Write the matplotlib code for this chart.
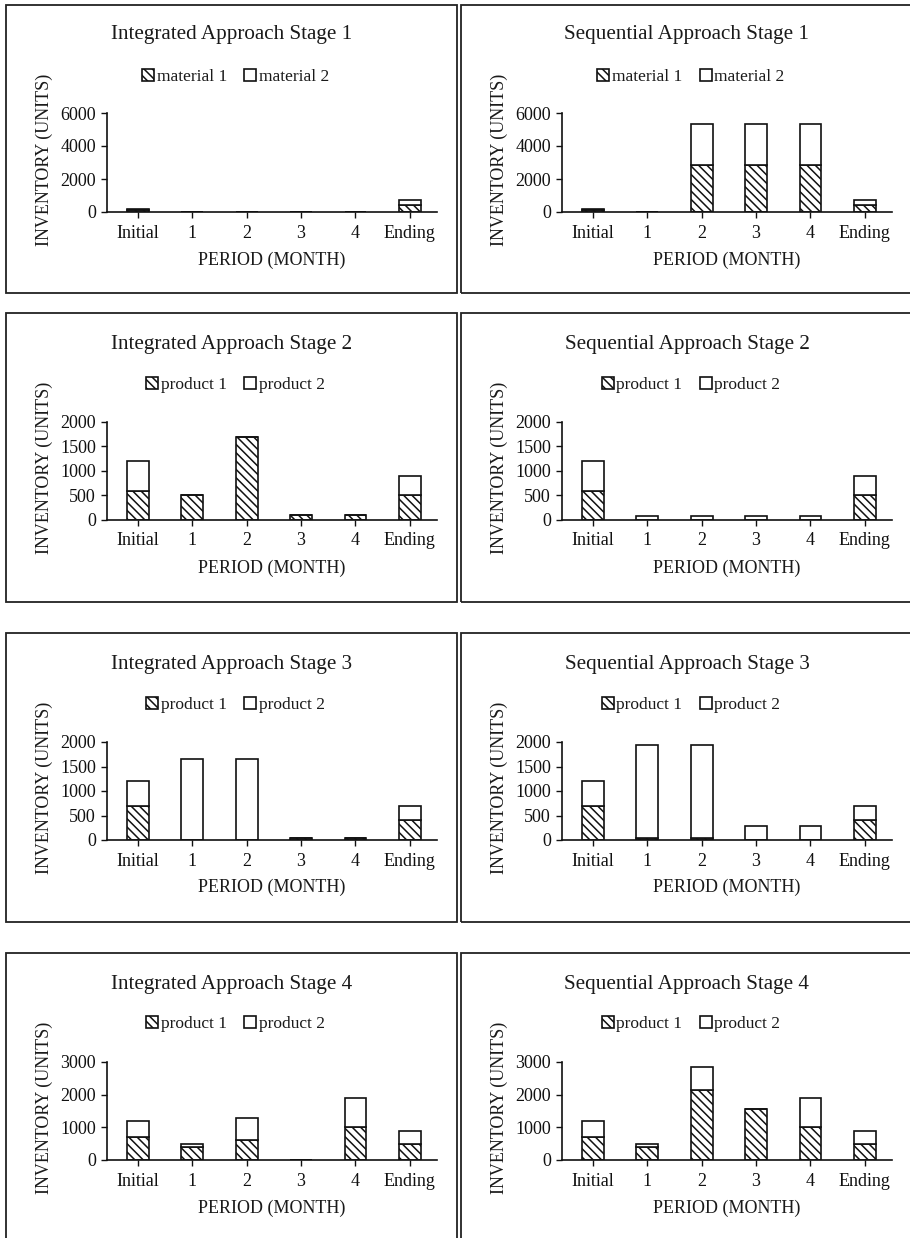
import matplotlib
matplotlib.use("Agg")
import matplotlib.pyplot as plt
from matplotlib.patches import Rectangle

plt.rcParams["font.family"] = ["Liberation Serif", "DejaVu Serif"]
plt.rcParams["hatch.linewidth"] = 1.1
plt.rcParams["text.color"] = "#1a1a1a"

periods = ["Initial", "1", "2", "3", "4", "Ending"]

# stage 1: raw materials
int_s1_m1 = [150, 0, 0, 0, 0, 400]
int_s1_m2 = [50, 0, 0, 0, 0, 300]
seq_s1_m1 = [150, 0, 2870, 2870, 2870, 400]
seq_s1_m2 = [50, 0, 2480, 2480, 2480, 300]

# stage 2
int_s2_p1 = [600, 500, 1700, 100, 100, 500]
int_s2_p2 = [600, 0, 0, 0, 0, 400]
seq_s2_p1 = [600, 0, 0, 0, 0, 500]
seq_s2_p2 = [600, 90, 90, 90, 90, 400]

# stage 3
int_s3_p1 = [700, 0, 0, 40, 40, 400]
int_s3_p2 = [500, 1650, 1650, 0, 0, 300]
seq_s3_p1 = [700, 40, 40, 0, 0, 400]
seq_s3_p2 = [500, 1890, 1890, 290, 290, 300]

# stage 4
int_s4_p1 = [700, 400, 600, 0, 1000, 500]
int_s4_p2 = [500, 100, 700, 0, 900, 400]
seq_s4_p1 = [700, 400, 2150, 1560, 1000, 500]
seq_s4_p2 = [500, 100, 700, 0, 900, 400]

panels = [
    ("Integrated Approach Stage 1", int_s1_m1, int_s1_m2, ("material 1", "material 2"), [0, 2000, 4000, 6000]),
    ("Sequential Approach Stage 1", seq_s1_m1, seq_s1_m2, ("material 1", "material 2"), [0, 2000, 4000, 6000]),
    ("Integrated Approach Stage 2", int_s2_p1, int_s2_p2, ("product 1", "product 2"), [0, 500, 1000, 1500, 2000]),
    ("Sequential Approach Stage 2", seq_s2_p1, seq_s2_p2, ("product 1", "product 2"), [0, 500, 1000, 1500, 2000]),
    ("Integrated Approach Stage 3", int_s3_p1, int_s3_p2, ("product 1", "product 2"), [0, 500, 1000, 1500, 2000]),
    ("Sequential Approach Stage 3", seq_s3_p1, seq_s3_p2, ("product 1", "product 2"), [0, 500, 1000, 1500, 2000]),
    ("Integrated Approach Stage 4", int_s4_p1, int_s4_p2, ("product 1", "product 2"), [0, 1000, 2000, 3000]),
    ("Sequential Approach Stage 4", seq_s4_p1, seq_s4_p2, ("product 1", "product 2"), [0, 1000, 2000, 3000]),
]

W, H = 910, 1238
fig = plt.figure(figsize=(W / 100, H / 100), dpi=100)


def fx(x):
    return x / W


def fy(y):
    return 1 - y / H


# pixel layout of each row: box top, box bottom, title y, legend y, axes top, axes bottom, xlabel y
rows = [
    (5, 293, 35, 77, 113, 212, 260),
    (313, 602, 344, 385, 422, 520, 568),
    (633, 922, 664, 705, 742, 840, 887),
    (953, 1250, 984, 1024, 1062, 1160, 1208),
]
# left edge, right edge of box; axes left, axes right
cols = [(6, 457, 107, 437), (461, 915, 562, 892)]

x = range(len(periods))
for i, (title, s1, s2, names, yticks) in enumerate(panels):
    btop, bbot, ty, ly, atop, abot, xly = rows[i // 2]
    bl, br, al, ar = cols[i % 2]

    fig.add_artist(Rectangle((fx(bl), fy(bbot)), fx(br - bl), (bbot - btop) / H,
                             transform=fig.transFigure, fill=False,
                             edgecolor="#222222", linewidth=1.3))

    ax = fig.add_axes([fx(al), fy(abot), fx(ar - al), (abot - atop) / H])
    b1 = ax.bar(x, s1, width=0.4, color="white", edgecolor="#111111",
                linewidth=1.2, hatch="\\\\\\\\", label=names[0])
    b2 = ax.bar(x, s2, width=0.4, bottom=s1, color="white", edgecolor="#111111",
                linewidth=1.2, label=names[1])

    ax.set_xlim(-0.57, 5.5)
    ax.set_ylim(0, yticks[-1])
    ax.set_yticks(yticks)
    ax.set_xticks(list(x))
    ax.set_xticklabels(periods)
    for s in ("top", "right"):
        ax.spines[s].set_visible(False)
    for s in ("left", "bottom"):
        ax.spines[s].set_linewidth(1.2)
        ax.spines[s].set_color("#111111")
    ax.tick_params(axis="both", labelsize=13, direction="out", length=4,
                   width=1.0, colors="#111111", pad=4)
    ax.tick_params(axis="x", pad=5)

    cx = (bl + br) / 2 if i % 2 == 0 else (bl + 913) / 2
    fig.text(fx(cx), fy(ty), title, ha="center", va="center", fontsize=15.2)
    fig.text(fx((al + ar) / 2), fy(xly), "PERIOD (MONTH)", ha="center",
             va="center", fontsize=13)
    fig.text(fx(bl + 38), fy((atop + abot) / 2 - 3), "INVENTORY (UNITS)",
             ha="center", va="center", rotation=90, fontsize=13)

    ax.legend(handles=[b1, b2], loc="center", bbox_to_anchor=(fx(cx + 4), fy(ly)),
              bbox_transform=fig.transFigure, ncol=2, frameon=False,
              fontsize=12.5, handlelength=0.7, handleheight=0.7,
              handletextpad=0.15, columnspacing=1.0, borderaxespad=0)

fig.savefig("out.png", dpi=100)
